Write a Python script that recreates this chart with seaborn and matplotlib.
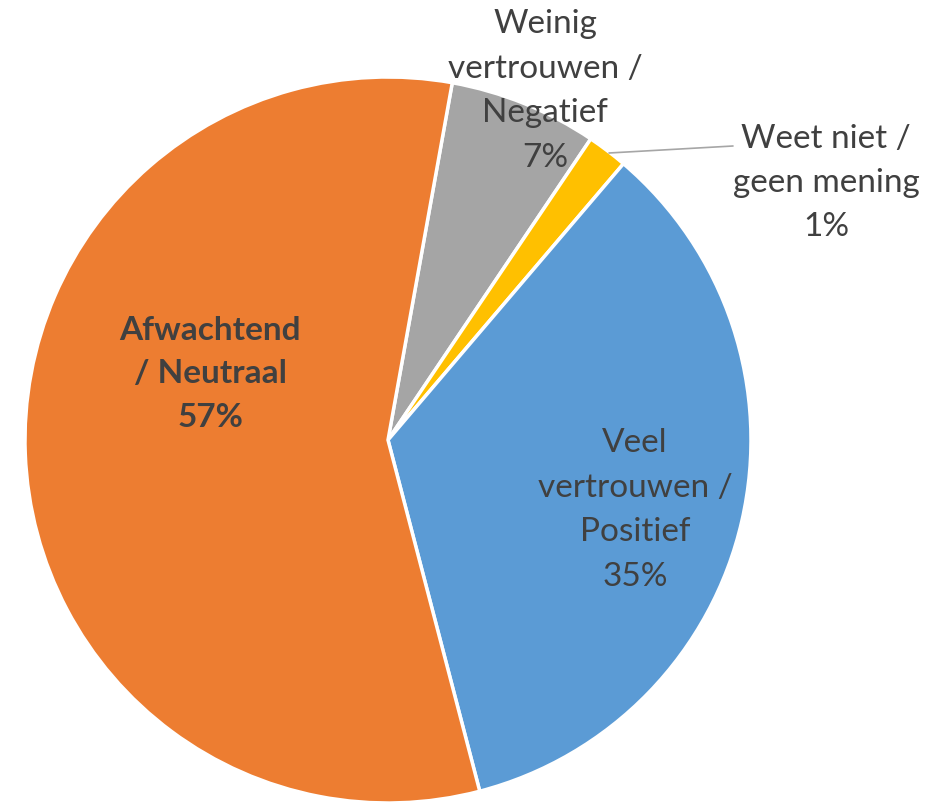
import matplotlib
matplotlib.use("Agg")
import matplotlib.pyplot as plt
import seaborn as sns

sns.set_theme(style="white")
plt.rcParams['font.family'] = ['Lato', 'DejaVu Sans']

# Data (clockwise, starting at the Negatief slice)
categories = ["Weinig\nvertrouwen /\nNegatief", "Weet niet /\ngeen mening",
              "Veel\nvertrouwen /\nPositief", "Afwachtend\n/ Neutraal"]
values = [6.6, 1.8, 34.7, 56.9]
pct_labels = ["7%", "1%", "35%", "57%"]
colors = ["#A5A5A5", "#FFC000", "#5B9BD5", "#ED7D31"]

W, H = 952, 802
fig = plt.figure(figsize=(W / 100, H / 100), dpi=100)
cx, cy, r = 388, 440, 363
ax = fig.add_axes([(cx - r) / W, (H - cy - r) / H, 2 * r / W, 2 * r / H])

ax.pie(values, colors=colors, startangle=79.8, counterclock=False, radius=1,
       wedgeprops=dict(edgecolor="white", linewidth=2.5))
ax.set_xlim(-1, 1)
ax.set_ylim(-1, 1)
ax.set_aspect("equal")
ax.axis("off")

def to_data(px, py):
    return (px - cx) / r, (cy - py) / r

txt_color = "#404040"
fs = 24
# label positions (pixel coords of block centres)
pos = [(545, 91), (826, 183), (635, 510), (210, 374)]
for i, (cat, pl) in enumerate(zip(categories, pct_labels)):
    x, y = to_data(*pos[i])
    ax.text(x, y, cat + "\n" + pl, ha="center", va="center", fontsize=fs,
            color=txt_color, linespacing=1.6,
            fontweight="bold" if i == 3 else "normal", clip_on=False)

# leader line for small slice
x0, y0 = to_data(609, 153)
x1, y1 = to_data(733, 146)
ax.plot([x0, x1], [y0, y1], color="#A6A6A6", linewidth=1.2, clip_on=False)

fig.savefig("out.png", dpi=100)
